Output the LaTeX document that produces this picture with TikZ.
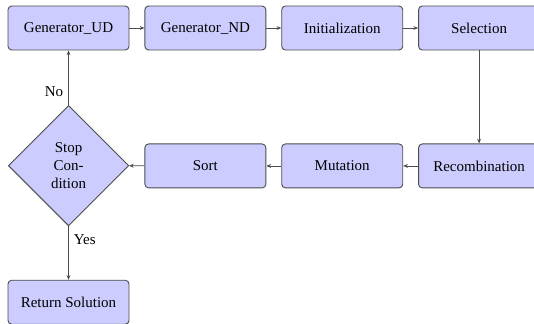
\documentclass[tikz,border=0pt]{standalone}
\usepackage{fontspec}
\setmainfont{Liberation Serif}
\usetikzlibrary{arrows.meta,positioning,shapes.geometric}

\tikzset{
  stagebox/.style={draw=black!70,fill=blue!20,rounded corners=2.5pt,line width=0.6pt,
    minimum width=2.835cm,minimum height=1.03cm,inner sep=2pt},
  testbox/.style={draw=black!70,fill=blue!20,diamond,aspect=1,line width=0.6pt,
    minimum width=2.82cm,minimum height=2.82cm,inner sep=0pt,align=center},
  flow/.style={draw=black!70,line width=0.5pt,-{Stealth[length=1.1mm,width=0.9mm]}}
}

\begin{document}
\begin{tikzpicture}[node distance=0.35cm and 0.35cm]
  \useasboundingbox (0,0) rectangle (12.51,-7.59);
  % top row
  \node[stagebox] (genud) at (1.605,-0.656) {Generator\_UD};
  \node[stagebox,right=of genud] (gennd) {Generator\_ND};
  \node[stagebox,right=of gennd] (init) {Initialization};
  \node[stagebox,right=of init] (select) {Selection};
  % second row
  \node[stagebox,below=2.18cm of select] (recomb) {Recombination};
  \node[stagebox,left=of recomb] (mutate) {Mutation};
  \node[stagebox,left=of mutate] (sorting) {Sort};
  \node[testbox] (stop) at (1.605,-3.88) {Stop\\Con-\\dition};
  \node[stagebox] (result) at (1.605,-7.08) {Return Solution};
  % connectors
  \draw[flow] (genud) -- (gennd);
  \draw[flow] (gennd) -- (init);
  \draw[flow] (init) -- (select);
  \draw[flow] (select) -- (recomb);
  \draw[flow] (recomb) -- (mutate);
  \draw[flow] (mutate) -- (sorting);
  \draw[flow] (sorting) -- (stop);
  \draw[flow] (stop) -- node[pos=0.25,left] {No} (genud);
  \draw[flow] (stop) -- node[pos=0.25,right] {Yes} (result);
\end{tikzpicture}
\end{document}
